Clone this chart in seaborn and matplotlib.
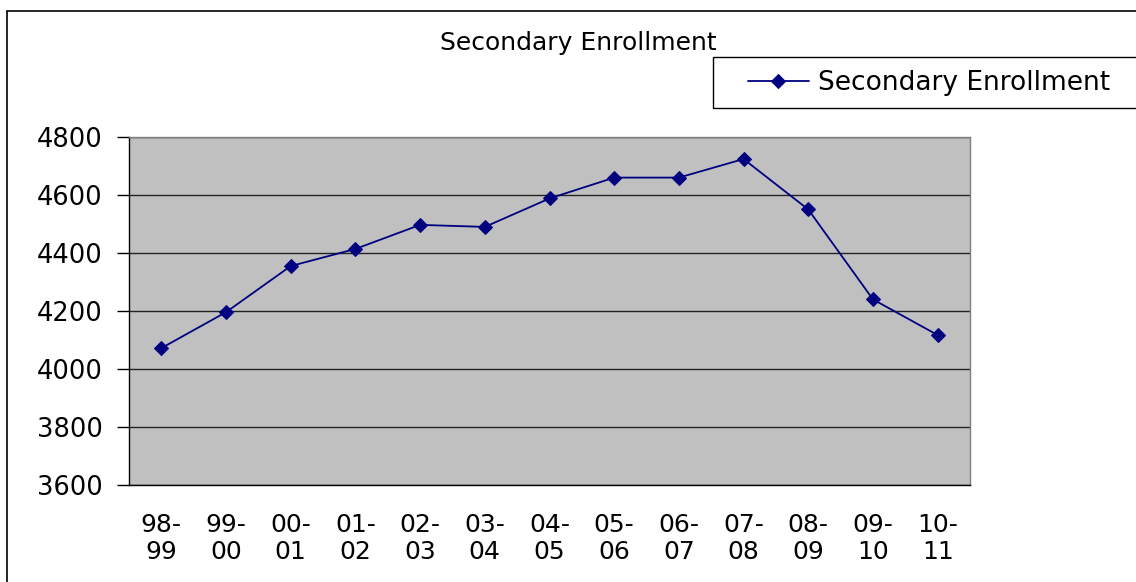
import numpy as np
import pandas as pd
import seaborn as sns
import matplotlib.pyplot as plt
from matplotlib.patches import Rectangle

# data
years = ['98-\n99', '99-\n00', '00-\n01', '01-\n02', '02-\n03', '03-\n04', '04-\n05',
         '05-\n06', '06-\n07', '07-\n08', '08-\n09', '09-\n10', '10-\n11']
enrollment = [4072, 4196, 4355, 4414, 4497, 4490, 4588, 4660, 4660, 4724, 4550, 4240, 4117]
y_ticks = [3600, 3800, 4000, 4200, 4400, 4600, 4800]

df = pd.DataFrame({'Year': years, 'Secondary Enrollment': enrollment})

sns.set_style('white')
plt.rcParams['font.family'] = ['DejaVu Sans']
plt.rcParams['text.color'] = 'black'
plt.rcParams['xtick.color'] = 'black'
plt.rcParams['ytick.color'] = 'black'

fig = plt.figure(figsize=(11.36, 5.82), dpi=100)
ax = fig.add_axes([129 / 1136, 1 - 485 / 582, (970 - 129) / 1136, (485 - 137) / 582])
ax.set_facecolor('#c0c0c0')

sns.lineplot(data=df, x='Year', y='Secondary Enrollment', sort=False, ax=ax,
             color='#000080', marker='D', markersize=7, linewidth=1.3,
             markeredgecolor='#000080', label='Secondary Enrollment')

ax.set_xlim(-0.5, len(years) - 0.5)
ax.set_ylim(3600, 4800)
ax.set_yticks(y_ticks)
ax.set_yticklabels([str(t) for t in y_ticks], fontsize=18.5)
ax.set_xticks(range(len(years)))
ax.set_xticklabels(years, fontsize=18, linespacing=1.15)
ax.set_xticks(np.arange(-0.5, len(years), 1), minor=True)
ax.tick_params(axis='x', which='major', length=0, pad=20)
ax.tick_params(axis='x', which='minor', length=8, color='black', width=1, direction='out')
ax.tick_params(axis='y', which='major', length=9, color='black', width=1, direction='out',
               left=True, pad=10)
ax.set_xlabel('')
ax.set_ylabel('')
ax.grid(axis='y', color='#222222', linewidth=1)
ax.set_axisbelow(True)
for side in ['top', 'right']:
    ax.spines[side].set_color('#808080')
    ax.spines[side].set_linewidth(1)
for side in ['left', 'bottom']:
    ax.spines[side].set_color('black')
    ax.spines[side].set_linewidth(1)

fig.text(578 / 1136, 1 - 43 / 582, 'Secondary Enrollment', ha='center', va='center', fontsize=18)

# legend: frameless, with its own box reaching past the right edge like the reference
leg = ax.legend(loc='center left', bbox_to_anchor=(748 / 1136, 1 - 83 / 582),
                bbox_transform=fig.transFigure, fontsize=19, frameon=False,
                borderaxespad=0, borderpad=0, handlelength=2.3, handletextpad=0.35)
fig.patches.append(Rectangle((713 / 1136, 1 - 108 / 582), 0.5, 51 / 582,
                             transform=fig.transFigure, fill=False,
                             edgecolor='black', linewidth=1))

# chart-area border (cropped on right and bottom in the reference)
fig.patches.append(Rectangle((7 / 1136, -0.1), 1.2, 1 - 11 / 582 + 0.1,
                             transform=fig.transFigure, fill=False,
                             edgecolor='black', linewidth=1.2))

fig.savefig('out.png', dpi=100)
